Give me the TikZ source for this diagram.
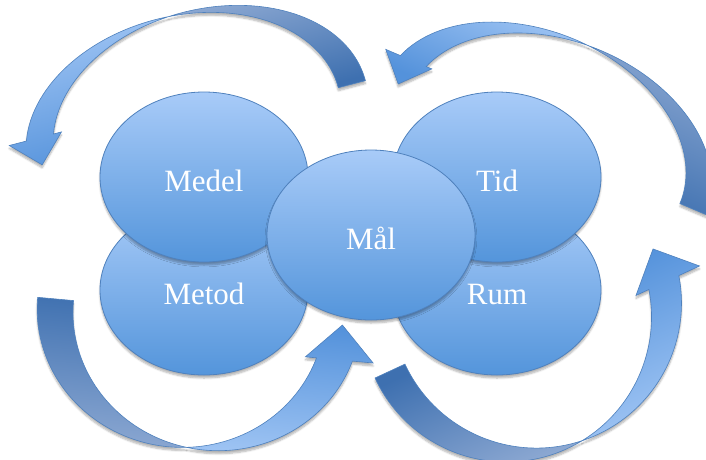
\documentclass[tikz,border=0pt]{standalone}
\usepackage{fontspec}
\setmainfont{Liberation Serif}
\usetikzlibrary{shapes.geometric,shadows.blur}
\definecolor{ringedge}{RGB}{79,129,189}
\definecolor{ringtop}{RGB}{168,203,248}
\definecolor{ringbot}{RGB}{84,149,219}
\definecolor{backdark}{RGB}{62,112,176}
\definecolor{backlight}{RGB}{140,168,210}
\definecolor{frontlight}{RGB}{163,199,245}
\definecolor{frontdark}{RGB}{84,146,219}
\tikzstyle{every node}=[font=\fontsize{31}{36}\selectfont]
\tikzstyle{softshadow}=[blur shadow={shadow xshift=0pt,shadow yshift=-3pt,shadow opacity=30,shadow blur steps=6}]
\tikzstyle{ring}=[ellipse,minimum width=208pt,minimum height=170pt,draw=ringedge,line width=0.8pt,
  top color=ringtop,bottom color=ringbot,text=white,text height=29pt,text depth=0pt,softshadow]
\tikzstyle{backpart}=[draw=ringedge,line width=0.6pt,top color=backlight,bottom color=backdark,softshadow]
\tikzstyle{frontpart}=[draw=ringedge,line width=0.6pt,top color=frontlight,bottom color=frontdark,softshadow]
% curved block arrow: #1 placement, #2 half span, #3 height, #4 band, #5 head length, #6 head half width, #7 turn
\newcommand{\loopArrow}[7]{%
  \pgfmathsetmacro\crossa{acos(#4/(2*#2))}%
  \pgfmathsetmacro\crossb{180-\crossa}%
  \pgfmathsetmacro\footang{180-asin(#5/#3)}%
  \begin{scope}[#1,x=1pt,y=1pt]
    \path[backpart,shading angle=#7] ({#2+#4/2},0) arc[start angle=0,end angle=\crossb,x radius=#2,y radius=#3]
      arc[start angle=\crossa,end angle=0,x radius=#2,y radius=#3] -- cycle;
    \path[frontpart,shading angle=#7] (0,{#3*sin(\crossa)}) arc[start angle=\crossa,end angle=\footang,x radius=#2,y radius=#3]
      -- ({-#2-#6},#5) -- (-#2,0) -- ({-#2+#6},#5) -- ({#4/2+#2*cos(\footang)},#5)
      arc[start angle=\footang,end angle=\crossb,x radius=#2,y radius=#3] -- cycle;
  \end{scope}}

\begin{document}
\begin{tikzpicture}[x=1pt,y=-1pt]
  \useasboundingbox (0,0) rectangle (706,459);
  % arrows round the rings
  \loopArrow{shift={(197,124.5)},rotate=14.6}{160}{112}{28}{27}{27}{14.6}
  \loopArrow{shift={(545.5,146.5)},rotate=-23}{160}{110}{28}{27}{25}{-23}
  \loopArrow{shift={(199,312)},rotate=174.8}{144}{137}{36}{35}{34}{174.8}
  \loopArrow{shift={(521.5,310)},rotate=204.9}{145}{145}{33}{35}{35}{204.9}
  % rings
  \node[ring] (metod) at (204,290) {Metod};
  \node[ring] (medel) at (204,177) {Medel};
  \node[ring] (rum) at (497,290) {Rum};
  \node[ring] (tid) at (497,177) {Tid};
  \node[ring] (mal) at (371,235) {Mål};
\end{tikzpicture}
\end{document}
